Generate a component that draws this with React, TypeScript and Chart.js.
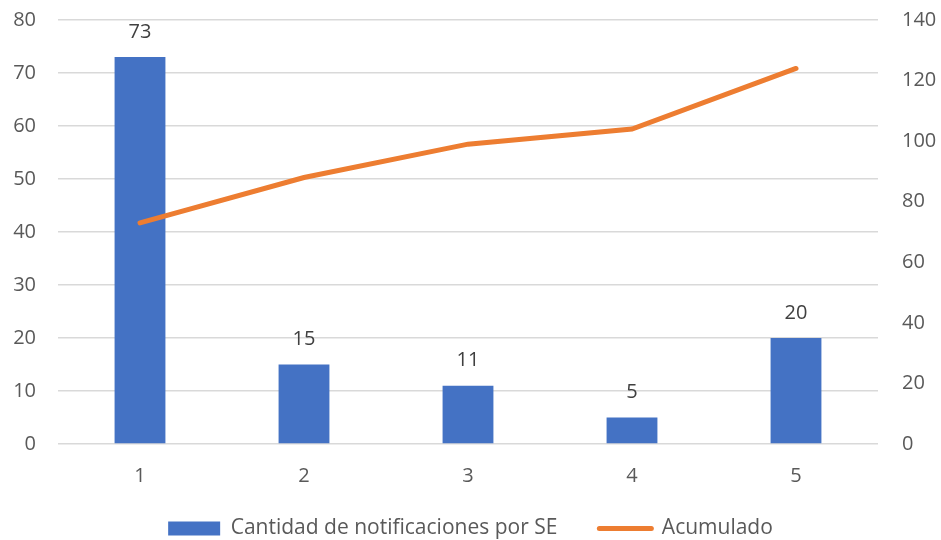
import React, { useEffect, useRef } from "react";
import { Chart, registerables } from "chart.js";

Chart.register(...registerables);

const categories = ["1", "2", "3", "4", "5"];
const notificaciones = [73, 15, 11, 5, 20];
const acumulado = [73, 88, 99, 104, 124];
const barLabel = "Cantidad de notificaciones por SE";
const lineLabel = "Acumulado";

const FONT = "'Open Sans', 'DejaVu Sans', sans-serif";
const FS = 20;

const dataLabelPlugin = {
  id: "dataLabels",
  afterDatasetsDraw(chart: any) {
    const ctx = chart.ctx;
    const meta = chart.getDatasetMeta(0);
    const values = chart.data.datasets[0].data;
    ctx.save();
    ctx.font = `${FS}px ${FONT}`;
    ctx.fillStyle = "#404040";
    ctx.textAlign = "center";
    ctx.textBaseline = "middle";
    meta.data.forEach((bar: any, i: number) => {
      ctx.fillText(String(values[i]), bar.x, bar.y - 25);
    });
    ctx.restore();
  },
};

export default function App() {
  const ref = useRef<HTMLCanvasElement>(null);
  useEffect(() => {
    document.body.style.margin = "0";
    const chart = new Chart(ref.current!, {
      type: "bar",
      data: {
        labels: categories,
        datasets: [
          {
            type: "bar",
            label: barLabel,
            data: notificaciones,
            backgroundColor: "#4472C4",
            yAxisID: "y",
            categoryPercentage: 1,
            barPercentage: 0.31,
            order: 2,
          },
          {
            type: "line",
            label: lineLabel,
            data: acumulado,
            borderColor: "#ED7D31",
            backgroundColor: "#ED7D31",
            borderWidth: 5,
            borderCapStyle: "round",
            pointRadius: 0,
            pointHoverRadius: 0,
            tension: 0,
            yAxisID: "y1",
            order: 1,
          } as any,
        ],
      },
      options: {
        animation: false,
        responsive: false,
        maintainAspectRatio: false,
        layout: { padding: { top: 20, left: 0, right: 0, bottom: -9 } },
        scales: {
          x: {
            grid: { display: false, drawTicks: false },
            border: { display: false },
            ticks: { color: "#595959", font: { family: FONT, size: FS }, padding: 20 },
            afterFit: (s: any) => {
              s.height = 32;
              s.paddingLeft = 0;
              s.paddingRight = 0;
              s._computeLabelArea = () => undefined;
            },
          },
          y: {
            position: "left",
            min: 0,
            max: 80,
            ticks: { stepSize: 10, color: "#595959", font: { family: FONT, size: FS }, padding: 22 },
            grid: { color: "#D9D9D9", lineWidth: 1.5, drawTicks: false },
            border: { display: false },
            afterFit: (s: any) => { s.width = 58; s.paddingTop = 0; s.paddingBottom = 0; },
          },
          y1: {
            position: "right",
            min: 0,
            max: 140,
            ticks: { stepSize: 20, color: "#595959", font: { family: FONT, size: FS }, padding: 24 },
            grid: { display: false, drawTicks: false },
            border: { display: false },
            afterFit: (s: any) => { s.width = 63; s.paddingTop = 0; s.paddingBottom = 0; },
          },
        },
        plugins: {
          legend: {
            position: "bottom",
            labels: {
              color: "#595959",
              font: { family: FONT, size: 21 },
              usePointStyle: true,
              pointStyleWidth: 52,
              boxHeight: 14,
              padding: 42,
              generateLabels: (chart: any) =>
                chart.data.datasets.map((ds: any, i: number) => ({
                  text: ds.label,
                  fillStyle: ds.backgroundColor,
                  strokeStyle: ds.type === "line" ? ds.borderColor : ds.backgroundColor,
                  lineWidth: ds.type === "line" ? 5 : 0,
                  pointStyle: ds.type === "line" ? "line" : "rect",
                  lineCap: "round",
                  fontColor: "#595959",
                  hidden: false,
                  datasetIndex: i,
                })),
            },
          },
          tooltip: { enabled: false },
        },
      },
      plugins: [dataLabelPlugin],
    });
    return () => chart.destroy();
  }, []);
  return (
    <div style={{ position: "absolute", left: 0, top: 0, width: 941, height: 540 }}>
      <canvas ref={ref} width={941} height={540} style={{ width: 941, height: 540 }} />
    </div>
  );
}
